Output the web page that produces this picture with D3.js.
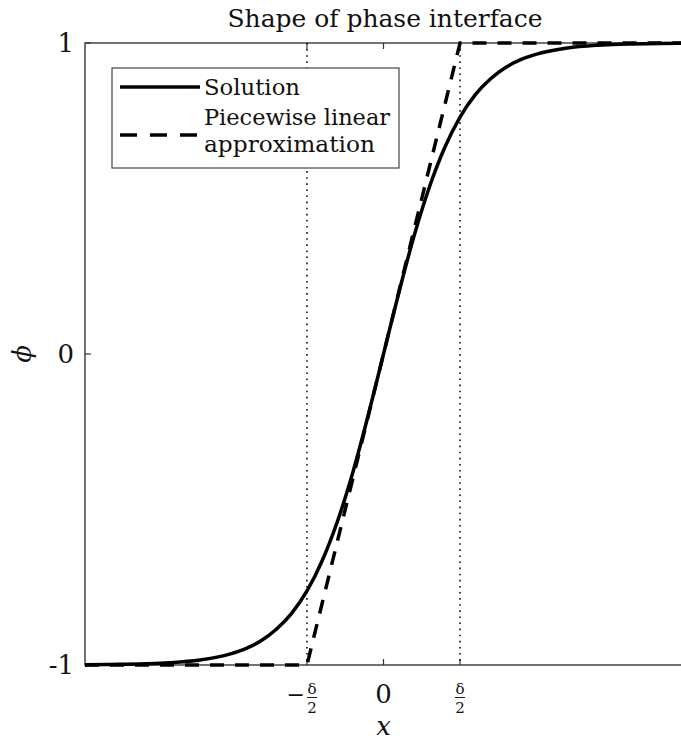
<!DOCTYPE html>
<html>
<head>
<meta charset="utf-8">
<script src="https://cdn.jsdelivr.net/npm/d3@7"></script>
<style>
  body { margin: 0; background: #fff; }
  svg text { font-family: "DejaVu Serif", "Liberation Serif", serif; }
</style>
</head>
<body>
<div id="chart"></div>
<script>
// x in units where delta = 1
const solX = [-1.95, -1.8, -1.6, -1.4, -1.2, -1.0, -0.9, -0.8, -0.7, -0.6, -0.5, -0.4, -0.3, -0.2, -0.1, 0,
  0.1, 0.2, 0.3, 0.4, 0.5, 0.6, 0.7, 0.8, 0.9, 1.0, 1.2, 1.4, 1.6, 1.8, 1.95];
const solY = [-0.999, -0.998, -0.997, -0.993, -0.984, -0.964, -0.947, -0.922, -0.885, -0.834, -0.762, -0.664, -0.537, -0.380, -0.197, 0,
  0.197, 0.380, 0.537, 0.664, 0.762, 0.834, 0.885, 0.922, 0.947, 0.964, 0.984, 0.993, 0.997, 0.998, 0.999];
const pwX = [-1.95, -0.5, 0.5, 1.95];
const pwY = [-1, -1, 1, 1];
const xTicks = [-0.5, 0, 0.5];
const xTickLabels = ['-d', '0', 'd'];
const yTicks = [-1, 0, 1];
const yTickLabels = ['-1', '0', '1'];
const guideX = [-0.5, 0.5];

const W = 681, H = 744;
const L = 85, R = 682, T = 43, B = 665;

const svg = d3.select('#chart').append('svg').attr('width', W).attr('height', H)
  .attr('fill', '#111');

const x = d3.scaleLinear().domain([-1.95, 1.95]).range([L, R]);
const y = d3.scaleLinear().domain([-1, 1]).range([B, T]);

// frame
svg.append('rect')
  .attr('x', L).attr('y', T).attr('width', R - L).attr('height', B - T)
  .attr('fill', 'none').attr('stroke', '#444').attr('stroke-width', 1.5);

// ticks (inside)
const tickLen = 6;
svg.selectAll('.xtick-b').data(xTicks).enter().append('line')
  .attr('x1', d => x(d)).attr('x2', d => x(d)).attr('y1', B).attr('y2', B - tickLen)
  .attr('stroke', '#333').attr('stroke-width', 1.2);
svg.selectAll('.xtick-t').data(xTicks).enter().append('line')
  .attr('x1', d => x(d)).attr('x2', d => x(d)).attr('y1', T).attr('y2', T + tickLen)
  .attr('stroke', '#333').attr('stroke-width', 1.2);
svg.selectAll('.ytick').data(yTicks).enter().append('line')
  .attr('x1', L).attr('x2', L + tickLen).attr('y1', d => y(d)).attr('y2', d => y(d))
  .attr('stroke', '#333').attr('stroke-width', 1.2);

// dotted guides
svg.selectAll('.guide').data(guideX).enter().append('line')
  .attr('x1', d => x(d)).attr('x2', d => x(d)).attr('y1', T).attr('y2', B)
  .attr('stroke', '#111').attr('stroke-width', 1.6)
  .attr('stroke-dasharray', '1.6,4.5');

const line = d3.line().x(d => x(d[0])).y(d => y(d[1]));

// piecewise linear (dashed)
svg.append('path')
  .datum(pwX.map((v, i) => [v, pwY[i]]))
  .attr('d', line)
  .attr('fill', 'none').attr('stroke', '#000').attr('stroke-width', 3.5)
  .attr('stroke-dasharray', '14,11');

// solution
svg.append('path')
  .datum(solX.map((v, i) => [v, solY[i]]))
  .attr('d', line.curve(d3.curveMonotoneX))
  .attr('fill', 'none').attr('stroke', '#000').attr('stroke-width', 3.5);

// y tick labels
svg.selectAll('.ylab').data(yTicks).enter().append('text')
  .attr('x', 74).attr('y', d => y(d) + 9)
  .attr('text-anchor', 'end').attr('font-size', 26)
  .text((d, i) => yTickLabels[i]);

// x tick labels
xTicks.forEach((t, i) => {
  const cx = x(t);
  const lab = xTickLabels[i];
  if (lab === '0') {
    svg.append('text').attr('x', cx).attr('y', 703)
      .attr('text-anchor', 'middle').attr('font-size', 26).text('0');
    return;
  }
  const fx = lab === '-d' ? cx + 5 : cx;
  if (lab === '-d') {
    svg.append('text').attr('x', fx - 7).attr('y', 702)
      .attr('text-anchor', 'end').attr('font-size', 22).text('\u2212');
  }
  svg.append('text').attr('x', fx).attr('y', 694)
    .attr('text-anchor', 'middle').attr('font-size', 15).text('\u03b4');
  svg.append('line').attr('x1', fx - 5).attr('x2', fx + 5).attr('y1', 697.5).attr('y2', 697.5)
    .attr('stroke', '#222').attr('stroke-width', 1);
  svg.append('text').attr('x', fx).attr('y', 713)
    .attr('text-anchor', 'middle').attr('font-size', 15).text('2');
});

// axis labels
svg.append('text').attr('x', x(0)).attr('y', 735)
  .attr('text-anchor', 'middle').attr('font-size', 26).attr('font-style', 'italic').text('x');
svg.append('text').attr('transform', 'translate(31,354) rotate(-90)')
  .attr('text-anchor', 'middle').attr('font-size', 26).attr('font-style', 'italic').text('\u03d5');

// title
svg.append('text').attr('x', 385).attr('y', 27)
  .attr('text-anchor', 'middle').attr('font-size', 24)
  .attr('textLength', 315).attr('lengthAdjust', 'spacingAndGlyphs')
  .text('Shape of phase interface');

// legend
const lg = svg.append('g');
lg.append('rect').attr('x', 112).attr('y', 68).attr('width', 287).attr('height', 100)
  .attr('fill', '#fff').attr('stroke', '#444').attr('stroke-width', 1.2);
lg.append('line').attr('x1', 120).attr('x2', 200).attr('y1', 87).attr('y2', 87)
  .attr('stroke', '#000').attr('stroke-width', 3.5);
lg.append('line').attr('x1', 120).attr('x2', 200).attr('y1', 135).attr('y2', 135)
  .attr('stroke', '#000').attr('stroke-width', 3.5).attr('stroke-dasharray', '17,13');
const legTexts = [['Solution', 95, 96], ['Piecewise linear', 125, 186], ['approximation', 152, 171]];
legTexts.forEach(d => {
  lg.append('text').attr('x', 204).attr('y', d[1]).attr('font-size', 22)
    .attr('textLength', d[2]).attr('lengthAdjust', 'spacingAndGlyphs').text(d[0]);
});
</script>
</body>
</html>
